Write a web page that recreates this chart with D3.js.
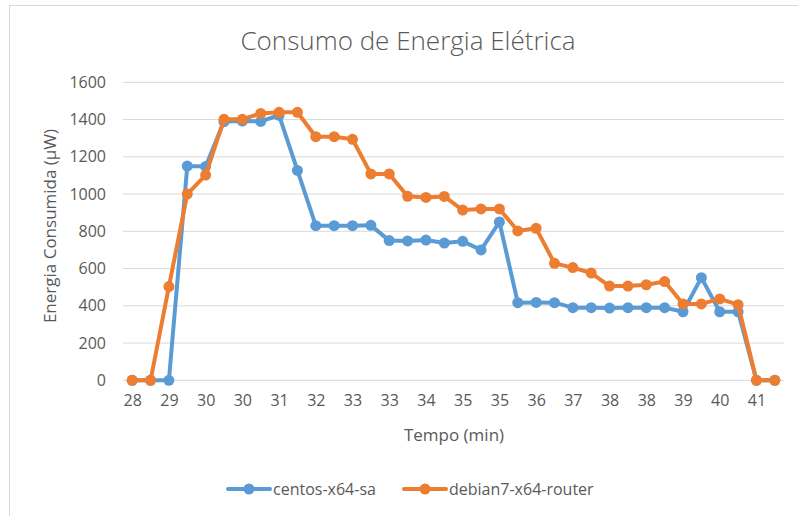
<!DOCTYPE html>
<html><head><meta charset="utf-8">
<script src="https://cdn.jsdelivr.net/npm/d3@7/dist/d3.min.js"></script>
<style>body{margin:0;background:#fff;} svg{display:block;}</style>
</head><body>
<svg id="chart" width="798" height="516"></svg>
<script>
const timeLabels = ["28","28","29","29","30","30","30","30","31","31","32","32","33","33","33","33","34","34",
  "35","35","35","35","36","36","37","37","38","38","38","38","39","39","40","40","41","41"];
const centos = [0,0,0,1150,1148,1389,1392,1390,1423,1127,830,830,830,832,750,748,753,737,746,700,850,
  417,418,417,390,390,388,390,390,390,368,551,368,368,0,0];
const debian = [0,0,503,1000,1102,1401,1401,1433,1439,1439,1308,1308,1294,1108,1108,988,982,987,914,920,920,
  802,816,628,605,576,506,506,513,530,410,410,437,406,0,0];
const yTicks = [0,200,400,600,800,1000,1200,1400,1600];
const seriesNames = ["centos-x64-sa","debian7-x64-router"];
const colors = ["#5B9BD5","#ED7D31"];

const svg = d3.select("#chart");
const txt = "#595959", grid = "#d9d9d9", font = "'Open Sans', sans-serif";

svg.append("rect").attr("x",9.5).attr("y",5.5).attr("width",820).attr("height",540)
  .attr("fill","#fff").attr("stroke",grid).attr("stroke-width",1);

const x = d3.scalePoint().domain(d3.range(timeLabels.length)).range([123,784]).padding(0.5);
const y = d3.scaleLinear().domain([0,1600]).range([380.3,82.3]);

// gridlines
svg.append("g").selectAll("line").data(yTicks).join("line")
  .attr("x1",123).attr("x2",784).attr("y1",d=>y(d)).attr("y2",d=>y(d))
  .attr("stroke",grid).attr("stroke-width",1);

// y axis
const yAxis = svg.append("g").attr("transform","translate(106,0)")
  .call(d3.axisLeft(y).tickValues(yTicks).tickFormat(d3.format("d")).tickSize(0).tickPadding(0));
yAxis.select(".domain").remove();
yAxis.selectAll("text").attr("fill",txt).style("font-family",font).style("font-size","16px");

// x axis
const xAxis = svg.append("g").attr("transform","translate(0,395)")
  .call(d3.axisBottom(x).tickValues(d3.range(0,timeLabels.length,2)).tickFormat(i=>timeLabels[i]).tickSize(0).tickPadding(0));
xAxis.select(".domain").remove();
xAxis.selectAll("text").attr("fill",txt).style("font-family",font).style("font-size","16px");

// titles
svg.append("text").attr("x",408).attr("y",50).attr("text-anchor","middle")
  .attr("fill",txt).style("font-family",font).style("font-weight",300).style("font-size","26px")
  .text("Consumo de Energia Elétrica");
svg.append("text").attr("x",454).attr("y",441).attr("text-anchor","middle")
  .attr("fill",txt).style("font-family",font).style("font-size","17px").text("Tempo (min)");
svg.append("text").attr("transform","translate(56,226) rotate(-90)").attr("text-anchor","middle")
  .attr("fill",txt).style("font-family",font).style("font-size","17px").text("Energia Consumida (µW)");

// series
const line = d3.line().x((d,i)=>x(i)).y(d=>y(d));
[centos,debian].forEach((data,k)=>{
  const g = svg.append("g");
  g.append("path").datum(data).attr("d",line).attr("fill","none")
    .attr("stroke",colors[k]).attr("stroke-width",4).attr("stroke-linejoin","round");
  g.selectAll("circle").data(data).join("circle")
    .attr("cx",(d,i)=>x(i)).attr("cy",d=>y(d)).attr("r",5.5).attr("fill",colors[k]);
});

// legend
const leg = [{x:228,name:seriesNames[0],c:colors[0]},{x:404,name:seriesNames[1],c:colors[1]}];
leg.forEach(l=>{
  svg.append("line").attr("x1",l.x).attr("x2",l.x+42).attr("y1",489).attr("y2",489)
    .attr("stroke",l.c).attr("stroke-width",4).attr("stroke-linecap","round");
  svg.append("circle").attr("cx",l.x+21).attr("cy",489).attr("r",5.5).attr("fill",l.c);
  svg.append("text").attr("x",l.x+45).attr("y",494.5).attr("fill",txt)
    .style("font-family",font).style("font-size","16px").text(l.name);
});
</script>
</body></html>
